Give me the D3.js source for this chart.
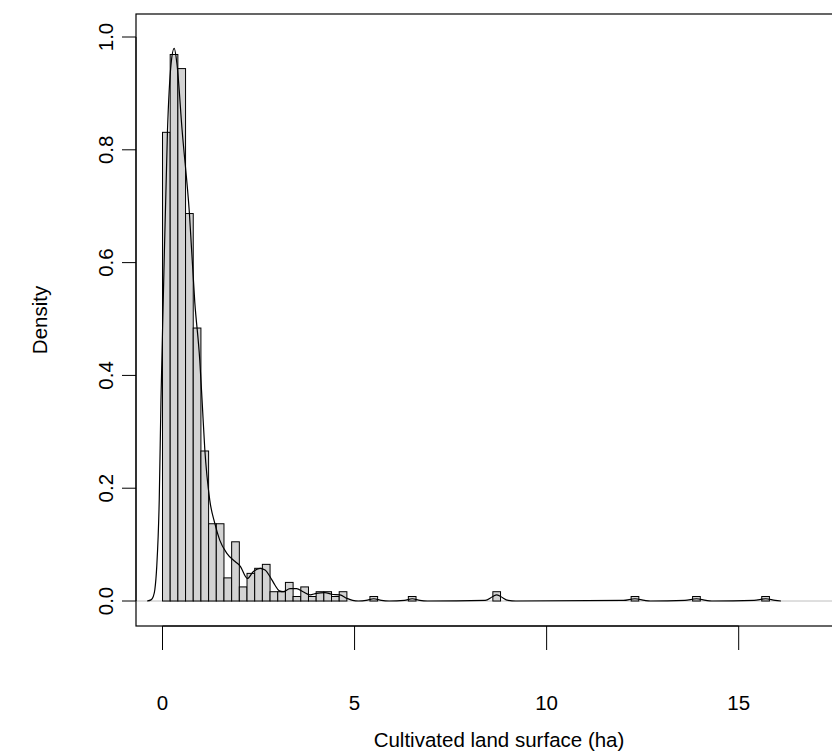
<!DOCTYPE html>
<html>
<head>
<meta charset="utf-8">
<script src="https://cdn.jsdelivr.net/npm/d3@7"></script>
<style>
  html, body { margin: 0; padding: 0; background: #fff; }
  #chart { width: 832px; height: 751px; }
  text { font-family: "Liberation Sans", Arial, sans-serif; fill: #000; }
</style>
</head>
<body>
<div id="chart"></div>
<script>
// Histogram bins: width 0.2 from 0 to 16, density
const binWidth = 0.2;
const binStarts = d3.range(0, 80).map(i => +(i * binWidth).toFixed(1));
const binDensity = [
  0.831, 0.969, 0.944, 0.687, 0.484, 0.266, 0.137, 0.137, 0.041, 0.105,
  0.025, 0.049, 0.058, 0.065, 0.0165, 0.0165, 0.033, 0.008, 0.025, 0.008,
  0.0165, 0.0165, 0.008, 0.0165, 0, 0, 0, 0.008, 0, 0,
  0, 0, 0.008, 0, 0, 0, 0, 0, 0, 0,
  0, 0, 0, 0.0165, 0, 0, 0, 0, 0, 0,
  0, 0, 0, 0, 0, 0, 0, 0, 0, 0,
  0, 0.008, 0, 0, 0, 0, 0, 0, 0, 0.008,
  0, 0, 0, 0, 0, 0, 0, 0, 0.008, 0
];

// Kernel density curve (x, density)
const densityX = [
  -0.40, -0.30, -0.24, -0.20, -0.15, -0.085, -0.04, 0.02, 0.13, 0.22,
  0.305, 0.38, 0.51, 0.70, 0.84, 0.97, 1.03, 1.10, 1.23, 1.36,
  1.49, 1.67, 1.89, 2.02, 2.21, 2.36, 2.54, 2.67, 2.80, 2.93,
  3.04, 3.14, 3.32, 3.49, 3.66, 3.84, 4.01, 4.23, 4.40, 4.62,
  4.79, 4.95, 5.10, 5.30, 5.50, 5.70, 5.90, 6.30, 6.50, 6.70,
  6.90, 8.40, 8.60, 8.70, 8.80, 9.00, 9.20, 12.00, 12.30, 12.55,
  12.70, 13.60, 13.90, 14.15, 14.30, 15.40, 15.70, 15.95, 16.10
];
const densityY = [
  0, 0.002, 0.008, 0.02, 0.061, 0.179, 0.356, 0.534, 0.835, 0.95,
  0.98, 0.95, 0.835, 0.688, 0.53, 0.427, 0.356, 0.27, 0.179, 0.138,
  0.108, 0.085, 0.070, 0.062, 0.040, 0.052, 0.058, 0.055, 0.043, 0.028,
  0.018, 0.0165, 0.022, 0.022, 0.0165, 0.011, 0.0137, 0.015, 0.012, 0.011,
  0.005, 0.001, 0, 0.001, 0.004, 0.001, 0, 0.001, 0.004, 0.001,
  0, 0.001, 0.008, 0.011, 0.008, 0.001, 0, 0.001, 0.004, 0.001,
  0, 0.001, 0.004, 0.001, 0, 0.001, 0.004, 0.001, 0
];

const xTicks = [0, 5, 10, 15];
const yTicks = [0, 0.2, 0.4, 0.6, 0.8, 1.0];

const width = 832, height = 751;
// plot region runs past the right edge of the picture
const plot = { left: 136, top: 14, right: 862, bottom: 626 };

const svg = d3.select("#chart")
  .append("svg")
  .attr("width", width)
  .attr("height", height);

const x = d3.scaleLinear()
  .domain([-0.69, 18.21])
  .range([plot.left, plot.right]);

const y = d3.scaleLinear()
  .domain([-0.0443, 1.0408])
  .range([plot.bottom, plot.top]);

// zero line (gray, like plot.density)
svg.append("line")
  .attr("x1", plot.left).attr("x2", plot.right)
  .attr("y1", y(0)).attr("y2", y(0))
  .attr("stroke", "#bebebe")
  .attr("stroke-width", 1);

// histogram bars
svg.append("g")
  .selectAll("rect")
  .data(binStarts.map((s, i) => ({ s, d: binDensity[i] })))
  .enter()
  .append("rect")
  .attr("x", d => x(d.s))
  .attr("width", d => x(d.s + binWidth) - x(d.s))
  .attr("y", d => y(d.d))
  .attr("height", d => y(0) - y(d.d))
  .attr("fill", "#d3d3d3")
  .attr("stroke", "#000")
  .attr("stroke-width", 1);

// density curve
const line = d3.line()
  .x(d => x(d[0]))
  .y(d => y(d[1]))
  .curve(d3.curveMonotoneX);

svg.append("path")
  .datum(densityX.map((v, i) => [v, densityY[i]]))
  .attr("d", line)
  .attr("fill", "none")
  .attr("stroke", "#000")
  .attr("stroke-width", 1.2);

// plot box
svg.append("rect")
  .attr("x", plot.left)
  .attr("y", plot.top)
  .attr("width", plot.right - plot.left)
  .attr("height", plot.bottom - plot.top)
  .attr("fill", "none")
  .attr("stroke", "#000")
  .attr("stroke-width", 1.2);

// x axis
const xAxis = svg.append("g")
  .attr("transform", `translate(0, ${plot.bottom})`);
xAxis.append("line")
  .attr("x1", x(xTicks[0])).attr("x2", x(xTicks[xTicks.length - 1]))
  .attr("y1", 0).attr("y2", 0)
  .attr("stroke", "#000");
xAxis.selectAll(".tick")
  .data(xTicks)
  .enter()
  .append("line")
  .attr("x1", d => x(d)).attr("x2", d => x(d))
  .attr("y1", 0).attr("y2", 24)
  .attr("stroke", "#000");
xAxis.selectAll(".lbl")
  .data(xTicks)
  .enter()
  .append("text")
  .attr("x", d => x(d))
  .attr("y", 84)
  .attr("text-anchor", "middle")
  .style("font-size", "20.5px")
  .text(d => d);

// y axis
const yAxis = svg.append("g")
  .attr("transform", `translate(${plot.left}, 0)`);
yAxis.append("line")
  .attr("x1", 0).attr("x2", 0)
  .attr("y1", y(yTicks[0])).attr("y2", y(yTicks[yTicks.length - 1]))
  .attr("stroke", "#000");
yAxis.selectAll(".tick")
  .data(yTicks)
  .enter()
  .append("line")
  .attr("x1", -14).attr("x2", 0)
  .attr("y1", d => y(d)).attr("y2", d => y(d))
  .attr("stroke", "#000");
yAxis.selectAll(".lbl")
  .data(yTicks)
  .enter()
  .append("text")
  .attr("transform", d => `translate(-23, ${y(d)}) rotate(-90)`)
  .attr("text-anchor", "middle")
  .style("font-size", "20.5px")
  .text(d => d3.format(".1f")(d));

// axis titles, centred on the plot region
svg.append("text")
  .attr("x", (plot.left + plot.right) / 2)
  .attr("y", 747)
  .attr("text-anchor", "middle")
  .style("font-size", "20.5px")
  .text("Cultivated land surface (ha)");

svg.append("text")
  .attr("transform", `translate(47, ${(plot.top + plot.bottom) / 2}) rotate(-90)`)
  .attr("text-anchor", "middle")
  .style("font-size", "20.5px")
  .text("Density");
</script>
</body>
</html>
